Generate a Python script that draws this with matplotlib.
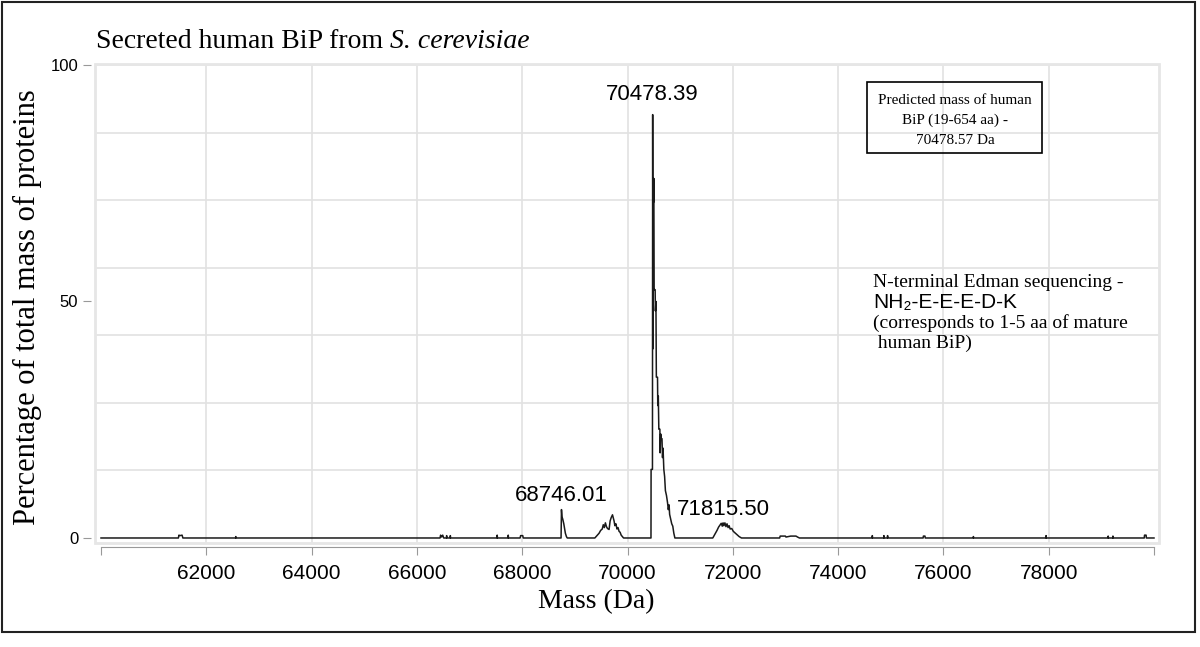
import matplotlib
matplotlib.use("Agg")
import matplotlib.pyplot as plt
from matplotlib.patches import Rectangle

serif = "Liberation Serif"
sans = ["Liberation Sans", "DejaVu Sans"]

# deconvoluted spectrum (mass in Da, % of total mass)
mass = [60000,
        61470, 61480, 61500, 61540, 61555,
        62555, 62560, 62565,
        66440, 66450, 66470, 66490, 66510, 66560, 66565, 66570, 66630, 66635, 66640,
        67520, 67525, 67530, 67730, 67735, 67740,
        67960, 67970, 68010, 68020,
        68738, 68746, 68755, 68770, 68790, 68805, 68820, 68840, 68855,
        69380, 69420, 69460, 69490, 69520, 69540, 69560, 69580, 69600, 69620,
        69650, 69670, 69690, 69715, 69730, 69745, 69760, 69780, 69800, 69820,
        69840, 69860, 69880, 69910, 69925,
        70446, 70448, 70474, 70478, 70484, 70490, 70496, 70500, 70506, 70525,
        70530, 70540, 70548, 70570, 70575, 70585, 70595, 70615, 70620, 70630,
        70640, 70655, 70665, 70675, 70690, 70705, 70720, 70740, 70760, 70775,
        70790, 70800, 70820, 70840, 70860, 70880, 70900,
        71620, 71660, 71700, 71730, 71760, 71780, 71800, 71815, 71830, 71850,
        71870, 71890, 71910, 71930, 71950, 71980, 72010, 72040, 72080, 72120, 72165,
        72890, 72900, 73000, 73010, 73100, 73200, 73230, 73265,
        74645, 74650, 74655, 74865, 74870, 74875, 74935, 74940, 74945,
        75615, 75620, 75650, 75655, 76565, 76570, 76575,
        77945, 77950, 77955, 79125, 79130, 79135, 79215, 79220, 79225,
        79815, 79820, 79850, 79855, 80000]
pct = [0,
       0, 0.6, 0.5, 0.6, 0,
       0, 0.3, 0,
       0, 0.6, 0.2, 0.6, 0, 0, 0.5, 0, 0, 0.5, 0,
       0, 0.6, 0, 0, 0.6, 0,
       0, 0.5, 0.5, 0,
       0, 6.0, 4.5, 4.0, 3.0, 2.0, 1.0, 0.3, 0,
       0, 0.5, 1.0, 1.6, 1.9, 2.8, 2.2, 3.2, 2.4, 2.0,
       1.8, 3.6, 4.3, 4.9, 4.2, 3.6, 2.6, 3.0, 1.9, 2.2,
       1.4, 1.2, 0.6, 0.2, 0,
       0, 14.5, 14.5, 89.5, 40, 76, 71, 76, 52.5, 52.5,
       48, 50, 34, 34, 28, 30, 23, 23, 18, 22,
       21, 21, 17, 19, 14.5, 13, 10, 9, 7.5, 6,
       7, 5, 4, 3, 2.5, 1, 0,
       0, 0.8, 1.6, 2.3, 2.8, 3.1, 2.5, 3.2, 2.6, 3.2,
       2.4, 3.0, 2.2, 2.6, 1.9, 2.0, 1.4, 1.1, 0.7, 0.3, 0,
       0, 0.4, 0.4, 0.2, 0.4, 0.4, 0.2, 0,
       0, 0.5, 0, 0, 0.5, 0, 0, 0.5, 0,
       0, 0.4, 0.4, 0, 0, 0.3, 0,
       0, 0.5, 0, 0, 0.4, 0, 0, 0.4, 0,
       0, 0.6, 0.6, 0, 0]

peak_mass = [68746.01, 70478.39, 71815.50]
peak_label = ["68746.01", "70478.39", "71815.50"]
peak_label_y = [9.0, 93.7, 6.1]

xticks = [60000, 62000, 64000, 66000, 68000, 70000, 72000, 74000, 76000, 78000, 80000]
xtick_labels = ["", "62000", "64000", "66000", "68000", "70000", "72000",
                "74000", "76000", "78000", ""]
xgrid = xticks[1:-1]
yticks = [0, 50, 100]
ygrid = [14.29, 28.57, 42.86, 57.14, 71.43, 85.71, 100]

W, H = 1200, 647


def fx(x):
    return x / W


def fy(y):
    return 1 - y / H


fig = plt.figure(figsize=(12, 6.47), dpi=100)
ax = fig.add_axes([fx(95), fy(543), fx(1159 - 95), (543 - 64) / H])

for g in xgrid:
    ax.axvline(g, color="#e2e2e2", lw=1.2, zorder=0)
for g in ygrid:
    ax.axhline(g, color="#e2e2e2", lw=1.2, zorder=0)

ax.plot(mass, pct, color="#1a1a1a", lw=1.1, zorder=3)

for m, lab, yy in zip(peak_mass, peak_label, peak_label_y):
    ax.text(m, yy, lab, ha="center", va="center", fontsize=16, family=sans)

ax.set_xlim(59886, 80095)
ax.set_ylim(-1.06, 100.2)

# panel border
ax.add_patch(Rectangle((0, 0), 1, 1, transform=ax.transAxes, fill=False,
                       ec="#e6e6e6", lw=2, zorder=1, clip_on=False))
for s in ["top", "right", "left"]:
    ax.spines[s].set_visible(False)
ax.spines["left"].set_position(("outward", 3))
ax.spines["bottom"].set_position(("outward", 3))
ax.spines["bottom"].set_bounds(60000, 80000)
ax.spines["bottom"].set_color("#999999")

ax.set_xticks(xticks)
ax.set_xticklabels(xtick_labels, fontsize=15, family=sans)
ax.set_yticks(yticks)
ax.set_yticklabels([str(t) for t in yticks], fontsize=12, family=sans)
ax.tick_params(axis="x", length=6, color="#999999", pad=6)
ax.tick_params(axis="y", length=6, color="#999999", pad=3)

# title with italic species name
t1 = fig.text(fx(96), fy(48), "Secreted human BiP from ", family=serif,
              fontsize=20, va="baseline")
ax.annotate("S. cerevisiae", xy=(1, 0), xycoords=t1, va="bottom", ha="left",
            family=serif, style="italic", fontsize=20, annotation_clip=False)

fig.text(fx(27), fy(307), "Percentage of total mass of proteins", rotation=90,
         ha="center", va="center", family=serif, fontsize=22)
fig.text(fx(596), fy(602), "Mass (Da)", ha="center", va="center",
         family=serif, fontsize=20)

# predicted mass box
fig.add_artist(Rectangle((fx(867), fy(153)), fx(1042 - 867), (153 - 82) / H,
                         transform=fig.transFigure, fill=False, ec="black", lw=1.2))
for yy, line in zip([100, 120, 140], ["Predicted mass of human",
                                      "BiP (19-654 aa) -", "70478.57 Da"]):
    fig.text(fx(955), fy(yy), line, ha="center", va="center", family=serif,
             fontsize=11)

# Edman sequencing note
fig.text(fx(873), fy(283), "N-terminal Edman sequencing -", va="center",
         family=serif, fontsize=14)
fig.text(fx(873), fy(303), "NH\u2082-E-E-E-D-K", va="center", family=sans,
         fontsize=15)
fig.text(fx(873), fy(323), "(corresponds to 1-5 aa of mature", va="center",
         family=serif, fontsize=14)
fig.text(fx(873), fy(343), " human BiP)", va="center", family=serif,
         fontsize=14)

# outer frame
fig.add_artist(Rectangle((fx(2), fy(632)), fx(1195 - 2), (632 - 2) / H,
                         transform=fig.transFigure, fill=False, ec="#222222",
                         lw=1.5))

fig.savefig("out.png", dpi=100)
